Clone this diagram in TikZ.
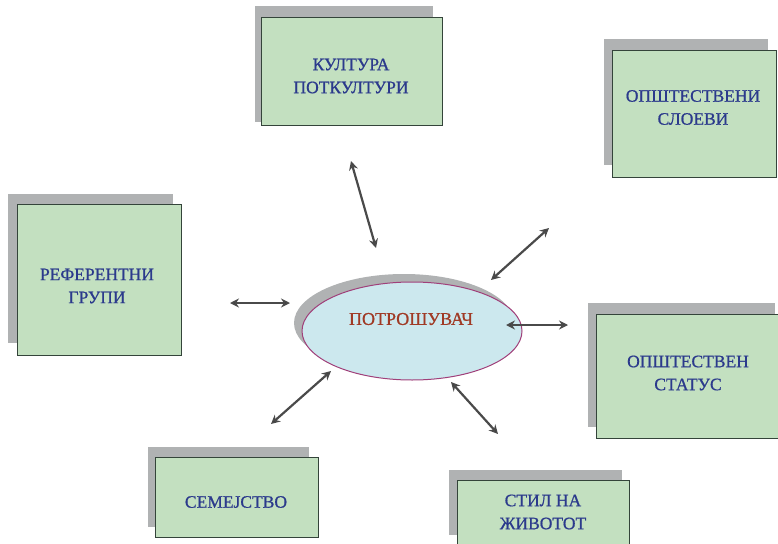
\documentclass[tikz,border=0pt]{standalone}
\usepackage{fontspec}
\setmainfont{Liberation Serif}
\newfontfamily\labelfont[FakeBold=0.8]{Liberation Serif}
\usetikzlibrary{arrows.meta}
\definecolor{boxfill}{HTML}{C3E0C0}
\definecolor{boxline}{HTML}{34443A}
\definecolor{shadowgray}{HTML}{B0B2B3}
\definecolor{labelblue}{HTML}{2B3A8C}
\definecolor{ellfill}{HTML}{CCE8EE}
\definecolor{elline}{HTML}{A0407A}
\definecolor{conred}{HTML}{A03A25}
\definecolor{arrowgray}{HTML}{4A4A4A}
\tikzset{
  shadowbox/.style={fill=shadowgray, draw=none},
  greenbox/.style={fill=boxfill, draw=boxline, line width=0.9pt},
  boxtext/.style={text=labelblue, font=\labelfont\fontsize{17.5}{23}\selectfont, align=center, inner sep=0pt},
  link/.style={draw=arrowgray, line width=2.2pt, {Stealth[length=9pt,width=9pt,fill=black]}-{Stealth[length=9pt,width=9pt,fill=black]}}
}
\begin{document}
\begin{tikzpicture}[x=1pt,y=-1pt]
\useasboundingbox (0,0) rectangle (778,543);
\clip (0,0) rectangle (778,543);
% shadows
\fill[shadowgray] (255,6) rectangle (433,122);
\fill[shadowgray] (604,39) rectangle (768,165);
\fill[shadowgray] (8,194) rectangle (173,343);
\fill[shadowgray] (588,303) rectangle (775,427);
\fill[shadowgray] (148,447) rectangle (309,527);
\fill[shadowgray] (449,470) rectangle (622,535);
% green boxes
\draw[greenbox] (261,17) rectangle (442,125);
\draw[greenbox] (612,50) rectangle (776,177);
\draw[greenbox] (17,204) rectangle (181,355);
\draw[greenbox] (596,314) rectangle (781,438);
\draw[greenbox] (155,457) rectangle (318,537);
\draw[greenbox] (457,480) rectangle (629,546);
% box texts
\node[boxtext] (kult) at (351,76) {КУЛТУРА\\ПОТКУЛТУРИ};
\node[boxtext] (sloevi) at (693,107.5) {ОПШТЕСТВЕНИ\\СЛОЕВИ};
\node[boxtext] (ref) at (97,286) {РЕФЕРЕНТНИ\\ГРУПИ};
\node[boxtext] (status) at (688,373) {ОПШТЕСТВЕН\\СТАТУС};
\node[boxtext] (sem) at (236,502) {СЕМЕЈСТВО};
\node[boxtext] (stil) at (543,512) {СТИЛ НА\\ЖИВОТОТ};
% ellipse
\fill[shadowgray] (404,323) ellipse [x radius=110, y radius=49];
\draw[fill=ellfill, draw=elline, line width=1pt] (412,331) ellipse [x radius=110, y radius=49];
\node[text=conred, font=\labelfont\fontsize{18}{21}\selectfont, inner sep=0pt] (potr) at (411,319) {ПОТРОШУВАЧ};
% arrow end points
\coordinate (a1) at (351,161);
\coordinate (a2) at (376,248);
\coordinate (b1) at (549,228);
\coordinate (b2) at (491,280);
\coordinate (c1) at (230,303);
\coordinate (c2) at (290,303);
\coordinate (d1) at (506,325);
\coordinate (d2) at (568,325);
\coordinate (e1) at (271,424);
\coordinate (e2) at (331,371);
\coordinate (f1) at (451,382);
\coordinate (f2) at (498,434);
\draw[link] (a1) -- (a2);
\draw[link] (b1) -- (b2);
\draw[link] (c1) -- (c2);
\draw[link] (d1) -- (d2);
\draw[link] (e1) -- (e2);
\draw[link] (f1) -- (f2);
\end{tikzpicture}
\end{document}
